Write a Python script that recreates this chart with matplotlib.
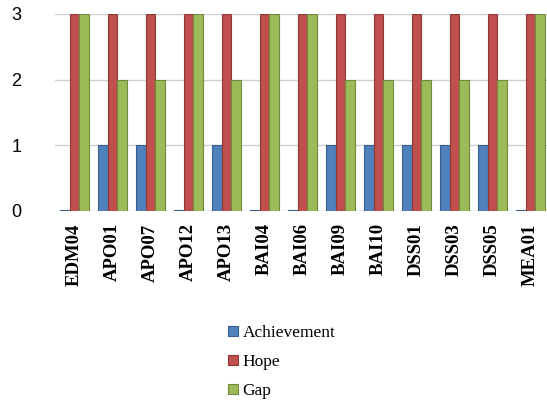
import matplotlib.pyplot as plt
import numpy as np

# processes and their scores
processes = ['EDM04', 'APO01', 'APO07', 'APO12', 'APO13', 'BAI04', 'BAI06',
             'BAI09', 'BAI10', 'DSS01', 'DSS03', 'DSS05', 'MEA01']
achievement = [0, 1, 1, 0, 1, 0, 0, 1, 1, 1, 1, 1, 0]
hope = [3, 3, 3, 3, 3, 3, 3, 3, 3, 3, 3, 3, 3]
gap = [3, 2, 2, 3, 2, 3, 3, 2, 2, 2, 2, 2, 3]

series = [('Achievement', achievement, '#4F81BD', '#385D8A'),
          ('Hope', hope, '#C0504D', '#8C3836'),
          ('Gap', gap, '#9BBB59', '#71893F')]

fig = plt.figure(figsize=(5.47, 4.07), dpi=100)
ax = fig.add_axes([0.1, 0.482, 0.9, 0.484])

x = np.arange(len(processes))
w = 0.25
for i, (name, vals, col, edge) in enumerate(series):
    # zero values still get a thin sliver
    h = [v if v > 0 else 0.02 for v in vals]
    ax.bar(x + (i - 1) * w, h, w, color=col, edgecolor=edge, lw=0.8,
           label=name, zorder=3)

ax.set_xlim(-0.52, len(processes) - 0.57)
ax.set_ylim(0, 3)
ax.set_yticks([0, 1, 2, 3])
ax.yaxis.grid(True, color='#d0d0d0', lw=1)
ax.set_axisbelow(True)
for s in ax.spines.values():
    s.set_visible(False)
ax.tick_params(length=0)
ax.tick_params(axis='y', pad=24, labelsize=13)
for t in ax.get_yticklabels():
    t.set_family('Liberation Sans')
ax.set_xticks(x)
ax.set_xticklabels(processes, rotation=90, family='Liberation Serif',
                   fontweight='bold', fontsize=13.5)
ax.tick_params(axis='x', pad=9)

leg = fig.legend(loc='upper left', bbox_to_anchor=(0.405, 0.218), frameon=False,
                 prop={'family': 'Liberation Serif', 'size': 12.5},
                 handlelength=0.55, handleheight=0.55, handletextpad=0.25,
                 labelspacing=0.75, borderaxespad=0)

fig.savefig('out.png', dpi=100)
